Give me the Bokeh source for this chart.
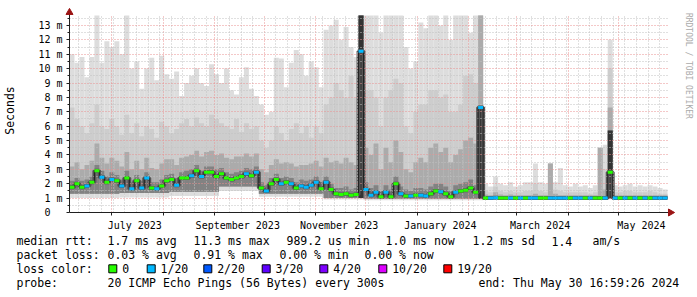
from datetime import datetime, timedelta
from math import pi
from bokeh.plotting import figure
from bokeh.models import Range1d, FixedTicker
from bokeh.layouts import column, row
from bokeh.embed import file_html
from bokeh.resources import INLINE
from bokeh.core.properties import value

# ---------------- data ----------------
START = datetime(2023, 6, 5, 17, 0, 0)     # left edge of the graph
BIN_DAYS = 3.0                             # one column of smoke = 3 days

median_ms = [
    1.75, 2.0, 1.75, 1.85, 2.1, 2.9, 2.45, 2.1, 2.3, 2.2,
    1.85, 2.4, 1.65, 2.2, 1.7, 2.4, 1.7, 1.65, 1.85, 2.2,
    2.3, 1.9, 2.4, 2.4, 2.55, 2.9, 2.5, 2.8, 2.8, 2.5,
    2.7, 2.4, 2.3, 2.4, 2.5, 2.7, 2.55, 2.8, 1.7, 1.5,
    2.0, 2.3, 2.0, 2.1, 2.0, 1.7, 1.85, 1.75, 1.9, 2.1,
    1.65, 2.1, 1.6, 1.3, 1.25, 1.3, 1.2, 1.25, 11.2, 1.6,
    1.2, 1.4, 1.1, 1.4, 1.1, 2.0, 1.3, 1.15, 1.15, 1.2,
    1.2, 1.15, 1.3, 1.5, 1.45, 1.3, 1.1, 1.4, 1.5, 1.55,
    1.7, 1.4, 7.3, 1.0, 1.0, 1.02, 1.0, 1.0, 1.0, 1.0,
    1.0, 1.0, 1.0, 1.0, 1.0, 1.0, 1.0, 1.0, 1.0, 1.0,
    1.0, 1.0, 1.0, 1.0, 1.0, 1.0, 1.0, 1.0, 2.8, 1.0,
    1.0, 1.0, 1.0, 1.0, 1.0, 1.0, 1.0, 1.0, 1.0, 1.0,
]

# index into LOSS_COLORS (0 = no loss, 1 = 1/20 ...)
loss_idx = [
    0, 0, 0, 1, 0, 0, 1, 0, 1, 0,
    1, 0, 1, 0, 1, 1, 0, 1, 0, 0,
    0, 1, 0, 0, 1, 0, 1, 0, 0, 0,
    0, 0, 0, 0, 0, 1, 0, 1, 0, 1,
    0, 0, 1, 0, 1, 0, 1, 1, 1, 1,
    0, 1, 0, 0, 0, 0, 0, 0, 1, 1,
    1, 1, 0, 1, 0, 0, 1, 0, 1, 0,
    1, 1, 0, 0, 1, 0, 0, 1, 0, 0,
    0, 0, 1, 0, 1, 1, 0, 0, 1, 0,
    1, 0, 1, 1, 0, 0, 1, 1, 1, 1,
    0, 1, 1, 0, 1, 0, 0, 1, 0, 1,
    0, 1, 0, 1, 0, 1, 0, 1, 1, 1,
]

# smoke: outer (max ping) top
max_ms = [
    11.0, 10.4, 10.8, 9.4, 10.8, 13.7, 10.4, 11.9, 11.5, 11.9,
    11.0, 13.7, 10.0, 10.5, 8.6, 10.0, 10.75, 9.2, 10.9, 9.6,
    9.3, 9.8, 8.1, 9.0, 9.5, 10.0, 9.0, 8.8, 10.3, 9.6,
    9.0, 10.0, 8.5, 8.2, 9.4, 10.1, 8.6, 8.1, 7.5, 6.8,
    7.0, 10.75, 10.7, 8.7, 10.4, 11.3, 11.0, 9.5, 10.5, 10.1,
    8.7, 12.7, 13.0, 13.4, 12.0, 12.9, 11.5, 10.8, 13.7, 13.7,
    13.7, 13.7, 12.5, 13.7, 13.7, 13.7, 13.7, 11.5, 10.0, 10.5,
    13.2, 12.8, 13.7, 13.7, 13.0, 13.7, 12.0, 13.7, 13.7, 13.7,
    12.5, 13.7, 13.7, 2.0, 1.8, 2.5, 2.0, 1.9, 2.1, 1.8,
    1.9, 2.1, 2.1, 3.4, 2.1, 2.0, 3.4, 2.1, 3.1, 1.9,
    1.8, 2.0, 1.8, 1.9, 1.7, 1.9, 4.5, 4.7, 12.0, 1.9,
    1.8, 1.9, 2.0, 1.8, 1.9, 1.8, 1.9, 1.8, 1.7, 1.6,
]

# second smoke band top
band2_ms = [
    7.3, 6.5, 6.0, 5.5, 6.2, 7.5, 6.0, 5.8, 6.5, 6.0,
    5.4, 6.8, 5.5, 6.2, 5.3, 6.0, 5.8, 5.2, 6.3, 6.0,
    5.5, 5.8, 6.2, 6.5, 6.0, 6.6, 6.2, 6.0, 6.8, 6.5,
    6.2, 6.0, 5.8, 6.5, 5.6, 6.2, 5.8, 6.0, 5.0, 4.5,
    5.0, 6.0, 5.5, 5.0, 5.8, 6.2, 5.5, 6.0, 5.2, 6.0,
    5.5, 7.5, 8.0, 9.0, 8.5, 8.0, 9.5, 8.0, 13.7, 8.5,
    8.5, 8.0, 6.0, 8.0, 8.5, 9.3, 9.0, 6.0, 5.5, 7.0,
    7.5, 7.5, 8.5, 8.5, 8.0, 8.2, 7.0, 7.0, 7.5, 9.5,
    9.6, 9.0, 13.7, 1.5, 1.4, 1.8, 1.5, 1.4, 1.5, 1.4,
    1.4, 1.5, 1.5, 2.0, 1.5, 1.4, 3.4, 1.6, 1.5, 1.4,
    1.4, 1.4, 1.4, 1.4, 1.3, 1.4, 4.5, 3.0, 10.0, 1.4,
    1.4, 1.5, 1.5, 1.4, 1.4, 1.4, 1.5, 1.4, 1.3, 1.3,
]

# third smoke band top
band3_ms = [
    3.2, 3.5, 3.0, 3.3, 3.6, 4.8, 3.8, 3.4, 3.8, 3.6,
    3.2, 4.2, 3.0, 3.6, 3.0, 3.8, 3.1, 3.0, 3.4, 3.7,
    3.7, 3.3, 3.8, 3.9, 4.0, 4.3, 3.9, 4.2, 4.3, 4.0,
    4.1, 3.8, 3.7, 3.9, 3.9, 4.1, 3.9, 4.1, 3.0, 2.8,
    3.3, 3.7, 3.4, 3.5, 3.4, 3.2, 3.3, 3.3, 3.4, 3.6,
    3.2, 3.8, 3.5, 3.6, 3.4, 3.8, 3.5, 3.3, 13.7, 4.5,
    4.0, 4.8, 3.0, 4.5, 3.5, 5.0, 4.2, 3.0, 2.8, 3.5,
    3.8, 3.5, 4.5, 4.8, 4.2, 4.5, 3.5, 4.0, 4.4, 5.0,
    5.2, 4.8, 13.7, 1.25, 1.2, 1.4, 1.25, 1.2, 1.25, 1.2,
    1.2, 1.2, 1.2, 1.3, 1.2, 1.2, 3.4, 1.3, 1.2, 1.2,
    1.2, 1.2, 1.2, 1.2, 1.2, 1.2, 4.5, 1.6, 7.3, 1.2,
    1.2, 1.2, 1.2, 1.2, 1.2, 1.2, 1.2, 1.2, 1.2, 1.2,
]

# fourth smoke band top (around the median)
band4_ms = [
    2.2, 2.4, 2.2, 2.3, 2.5, 3.3, 2.9, 2.5, 2.8, 2.6,
    2.3, 2.9, 2.1, 2.6, 2.2, 2.8, 2.1, 2.1, 2.3, 2.6,
    2.7, 2.4, 2.8, 2.9, 3.0, 3.3, 2.9, 3.2, 3.2, 3.0,
    3.1, 2.8, 2.7, 2.8, 2.9, 3.1, 3.0, 3.2, 2.1, 1.9,
    2.4, 2.7, 2.4, 2.5, 2.4, 2.1, 2.3, 2.2, 2.3, 2.5,
    2.1, 2.5, 2.0, 1.7, 1.7, 1.8, 1.6, 1.7, 13.7, 2.1,
    1.7, 1.9, 1.5, 1.9, 1.6, 2.5, 1.8, 1.6, 1.5, 1.7,
    1.7, 1.6, 1.8, 2.0, 2.0, 1.8, 1.5, 1.9, 2.0, 2.1,
    2.3, 1.9, 7.3, 1.12, 1.12, 1.15, 1.12, 1.12, 1.12, 1.12,
    1.12, 1.12, 1.12, 1.12, 1.12, 1.12, 1.12, 1.12, 1.12, 1.12,
    1.12, 1.12, 1.12, 1.12, 1.12, 1.12, 1.12, 1.12, 5.7, 1.12,
    1.12, 1.12, 1.12, 1.12, 1.12, 1.12, 1.12, 1.12, 1.12, 1.12,
]

# bottom of the outer smoke (min ping)
min_ms = [
    1.0, 1.0, 1.0, 1.0, 1.0, 1.0, 1.0, 1.0, 1.0, 1.0,
    1.05, 1.05, 1.05, 1.05, 1.05, 1.05, 1.05, 1.05, 1.05, 1.05,
    1.15, 1.15, 1.15, 1.15, 1.15, 1.15, 1.15, 1.15, 1.15, 1.15,
    1.5, 1.5, 1.5, 1.5, 1.5, 1.5, 1.5, 1.5, 1.1, 1.1,
    1.1, 1.1, 1.1, 1.1, 1.1, 1.1, 1.1, 1.1, 1.1, 1.1,
    1.1, 0.9, 0.9, 0.9, 0.9, 0.9, 0.9, 0.9, 0.9, 0.85,
    0.85, 0.85, 0.85, 0.85, 0.85, 0.85, 0.85, 0.85, 0.85, 0.85,
    0.85, 0.85, 0.85, 0.85, 0.85, 0.85, 0.85, 0.85, 0.85, 0.85,
    0.85, 0.85, 0.85, 0.92, 0.92, 0.92, 0.92, 0.92, 0.92, 0.92,
    0.92, 0.92, 0.92, 0.92, 0.92, 0.92, 0.92, 0.92, 0.92, 0.92,
    0.92, 0.92, 0.92, 0.92, 0.92, 0.92, 0.92, 0.92, 0.92, 0.92,
    0.92, 0.92, 0.92, 0.92, 0.92, 0.92, 0.92, 0.92, 0.92, 0.92,
]

# bottom of the inner smoke bands
inner_low_ms = [
    1.3, 1.3, 1.3, 1.3, 1.3, 1.3, 1.3, 1.3, 1.3, 1.3,
    1.35, 1.35, 1.35, 1.35, 1.35, 1.35, 1.35, 1.35, 1.35, 1.35,
    1.45, 1.45, 1.45, 1.45, 1.45, 1.45, 1.45, 1.45, 1.45, 1.45,
    1.8, 1.8, 1.8, 1.8, 1.8, 1.8, 1.8, 1.8, 1.3, 1.3,
    1.3, 1.3, 1.3, 1.3, 1.3, 1.3, 1.3, 1.3, 1.3, 1.3,
    1.3, 1.0, 1.0, 1.0, 1.0, 1.0, 1.0, 1.0, 1.0, 0.95,
    0.95, 0.95, 0.95, 0.95, 0.95, 0.95, 0.95, 0.95, 0.95, 0.95,
    0.95, 0.95, 0.95, 0.95, 0.95, 0.95, 0.95, 0.95, 0.95, 0.95,
    0.95, 0.95, 0.95, 0.96, 0.96, 0.96, 0.96, 0.96, 0.96, 0.96,
    0.96, 0.96, 0.96, 0.96, 0.96, 0.96, 0.96, 0.96, 0.96, 0.96,
    0.96, 0.96, 0.96, 0.96, 0.96, 0.96, 0.96, 0.96, 0.96, 0.96,
    0.96, 0.96, 0.96, 0.96, 0.96, 0.96, 0.96, 0.96, 0.96, 0.96,
]

# columns where nearly all pings were slow (dark spikes)
spike_bins = [58, 82, 108]
spike_low_ms = [1.0, 0.95, 1.0]
spike_top_ms = [13.7, 7.3, 5.7]

LOSS_COLORS = ["#26ff00", "#00b8ff", "#0059ff", "#5e00ff", "#7e00ff", "#dd00ff", "#ff0000"]
LOSS_LABELS = ["0", "1/20", "2/20", "3/20", "4/20", "10/20", "19/20"]

x_tick_dates = [datetime(2023, 7, 15), datetime(2023, 9, 15), datetime(2023, 11, 15),
                datetime(2024, 1, 15), datetime(2024, 3, 15), datetime(2024, 5, 15)]
x_tick_labels = ["July 2023", "September 2023", "November 2023",
                 "January 2024", "March 2024", "May 2024"]
y_tick_values = [0, 1, 2, 3, 4, 5, 6, 7, 8, 9, 10, 11, 12, 13]

legend_rows = [
    [("median rtt:", 16), ("1.7 ms avg", 107), ("11.3 ms max", 193), ("989.2 us min", 286),
     ("1.0 ms now", 385), ("1.2 ms sd", 472), ("1.4", 551), ("am/s", 592)],
    [("packet loss:", 16), ("0.03 % avg", 107), ("0.91 % max", 193), ("0.00 % min", 279),
     ("0.00 % now", 364)],
    [("loss color:", 16)],
    [("probe:", 16), ("20 ICMP Echo Pings (56 Bytes) every 300s", 107),
     ("end: Thu May 30 16:59:26 2024", 478)],
]
loss_box_x = [108.3, 146.7, 203.3, 261.7, 319.3, 378.3, 443.3]

# ---------------- helpers ----------------
def days(dt):
    return (dt - START).total_seconds() / 86400.0

n = len(median_ms)
left = [k * BIN_DAYS for k in range(n)]
right = [(k + 1) * BIN_DAYS for k in range(n)]
DATA_END = n * BIN_DAYS

PX_PER_DAY = 600.0 / 360.0
PX_PER_MS = 14.6
FONT = "DejaVu Sans Mono"

W_MAIN, H_MAIN = 680, 233
B_LEFT, B_RIGHT, B_TOP, B_BOTTOM = 67, 6, 8, 18
XMAX = (W_MAIN - B_LEFT - B_RIGHT) / PX_PER_DAY
YMAX = (H_MAIN - B_TOP - B_BOTTOM) / PX_PER_MS
X_AXIS_END = 603.0 / PX_PER_DAY       # axis line stops at the arrow base
Y_AXIS_END = 202.5 / PX_PER_MS
GRID_X_END = 601.0 / PX_PER_DAY
GRID_Y_END = 201.0 / PX_PER_MS

month_starts = [datetime(2023, m, 1) for m in range(7, 13)] + [datetime(2024, m, 1) for m in range(1, 6)]
month_days = [days(d) for d in month_starts]
sundays = []
d = datetime(2023, 6, 11)
while days(d) < DATA_END:
    if d not in month_starts:
        sundays.append(days(d))
    d += timedelta(days=7)

# ---------------- main graph ----------------
p = figure(width=W_MAIN, height=H_MAIN, x_range=Range1d(0, XMAX), y_range=Range1d(0, YMAX),
           toolbar_location=None, output_backend="svg",
           min_border_left=B_LEFT, min_border_right=B_RIGHT,
           min_border_top=B_TOP, min_border_bottom=B_BOTTOM)
p.outline_line_color = None
p.background_fill_color = "white"
p.border_fill_color = "white"

# smoke bands, outer to inner
p.quad(left=left, right=right, bottom=min_ms, top=max_ms, fill_color="#dddddd", line_color=None, level="image")
p.quad(left=left, right=right, bottom=inner_low_ms, top=band2_ms, fill_color="#cdcdcd", line_color=None, level="image")
p.quad(left=left, right=right, bottom=inner_low_ms, top=band3_ms, fill_color="#ababab", line_color=None, level="image")
p.quad(left=left, right=right, bottom=inner_low_ms, top=band4_ms, fill_color="#828282", line_color=None, level="image")
p.quad(left=[left[i] for i in spike_bins], right=[right[i] for i in spike_bins],
       bottom=spike_low_ms, top=spike_top_ms, fill_color="#333333", line_color=None, level="image")
# darkest smoke right around the median
p.step(x=left + [DATA_END], y=median_ms + [median_ms[-1]], mode="after",
       line_color="#555555", line_width=4, level="image")

# median: thin dark connector + loss coloured segments
p.step(x=left + [DATA_END], y=median_ms + [median_ms[-1]], mode="after", line_color="#222222", line_width=1)
p.segment(x0=left, x1=right, y0=median_ms, y1=median_ms,
          line_color=[LOSS_COLORS[i] for i in loss_idx], line_width=3)

# grids
p.ygrid.ticker = FixedTicker(ticks=y_tick_values[1:], minor_ticks=[v + 0.5 for v in y_tick_values])
p.xgrid.ticker = FixedTicker(ticks=month_days, minor_ticks=sundays)
for g in (p.xgrid, p.ygrid):
    g.grid_line_color = "#e89090"
    g.grid_line_dash = "1 2"
    g.minor_grid_line_color = "#c0c0c0"
    g.minor_grid_line_dash = "1 2"
try:
    p.xgrid.cross_bounds = (0, GRID_Y_END)
    p.ygrid.cross_bounds = (0, GRID_X_END)
except Exception:
    pass

# y axis
p.yaxis.ticker = FixedTicker(ticks=y_tick_values, minor_ticks=[v + 0.5 for v in y_tick_values])
p.yaxis.major_label_overrides = {v: ("0\u00a0\u00a0" if v == 0 else f"{v} m") for v in y_tick_values}
p.yaxis.axis_label = "Seconds"
p.yaxis.axis_label_text_font = FONT
p.yaxis.axis_label_text_font_size = "11.5px"
p.yaxis.axis_label_text_font_style = "normal"
p.yaxis.axis_label_text_color = "#000000"
p.yaxis.axis_label_standoff = 18
p.yaxis.major_tick_out = 3
p.yaxis.major_tick_in = 0
p.yaxis.minor_tick_out = 2
p.yaxis.minor_tick_in = 0
p.yaxis.major_label_standoff = 4
p.yaxis.bounds = (0, Y_AXIS_END)

# x axis
p.xaxis.ticker = FixedTicker(ticks=[days(d) for d in x_tick_dates], minor_ticks=month_days)
p.xaxis.major_label_overrides = {days(d): t for d, t in zip(x_tick_dates, x_tick_labels)}
p.xaxis.major_tick_out = 0
p.xaxis.major_tick_in = 0
p.xaxis.minor_tick_out = 3
p.xaxis.minor_tick_in = 0
p.xaxis.major_label_standoff = 4
p.xaxis.bounds = (0, X_AXIS_END)

for ax in (p.xaxis, p.yaxis):
    ax.axis_line_color = "#202020"
    ax.major_tick_line_color = "#202020"
    ax.minor_tick_line_color = "#202020"
    ax.major_label_text_font = FONT
    ax.major_label_text_font_size = "10px"
    ax.major_label_text_color = "#000000"

# axis arrow heads (inside the frame, which reaches the arrow tips)
ARROW = "#9b1414"
p.scatter(x=[0], y=[YMAX - 4.0 / PX_PER_MS], marker="triangle", size=7,
          fill_color=ARROW, line_color=ARROW, line_width=1, level="overlay")
p.scatter(x=[XMAX - 4.0 / PX_PER_DAY], y=[0], marker="triangle", size=7, angle=-pi / 2,
          fill_color=ARROW, line_color=ARROW, line_width=1, level="overlay")

# ---------------- side strip with the vertical credit ----------------
W_SIDE = 697 - W_MAIN
side = figure(width=W_SIDE, height=H_MAIN, x_range=Range1d(0, W_SIDE), y_range=Range1d(0, H_MAIN),
              toolbar_location=None, output_backend="svg", min_border=0,
              x_axis_location=None, y_axis_location=None)
side.outline_line_color = None
side.grid.visible = False
side.text(x=[8], y=[H_MAIN - 5], text=["RRDTOOL / TOBI OETIKER"], angle=-pi / 2,
          text_align="left", text_baseline="middle", text_font=value(FONT),
          text_font_size="8px", text_color="#aaaaaa")

# ---------------- legend ----------------
H_LEG = 297 - H_MAIN
leg = figure(width=697, height=H_LEG, x_range=Range1d(0, 697), y_range=Range1d(H_LEG, 0),
             toolbar_location=None, output_backend="svg", min_border=0,
             x_axis_location=None, y_axis_location=None)
leg.outline_line_color = None
leg.grid.visible = False

row_y = [7.7, 21.3, 35.3, 49.3]
tx, ty, tt = [], [], []
for ry, items in zip(row_y, legend_rows):
    for txt, x in items:
        tx.append(x); ty.append(ry); tt.append(txt)
for bx, lab in zip(loss_box_x, LOSS_LABELS):
    tx.append(bx + 13.4); ty.append(row_y[2]); tt.append(lab)
leg.text(x=tx, y=ty, text=tt, text_font=value(FONT), text_font_size="11.5px",
         text_baseline="middle", text_align="left", text_color="#000000")
leg.quad(left=loss_box_x, right=[b + 8 for b in loss_box_x],
         top=[row_y[2] - 4] * len(loss_box_x), bottom=[row_y[2] + 4] * len(loss_box_x),
         fill_color=LOSS_COLORS, line_color="#000000", line_width=1)

layout = column(row(p, side), leg)
open("out.html", "w").write(file_html(layout, INLINE))
